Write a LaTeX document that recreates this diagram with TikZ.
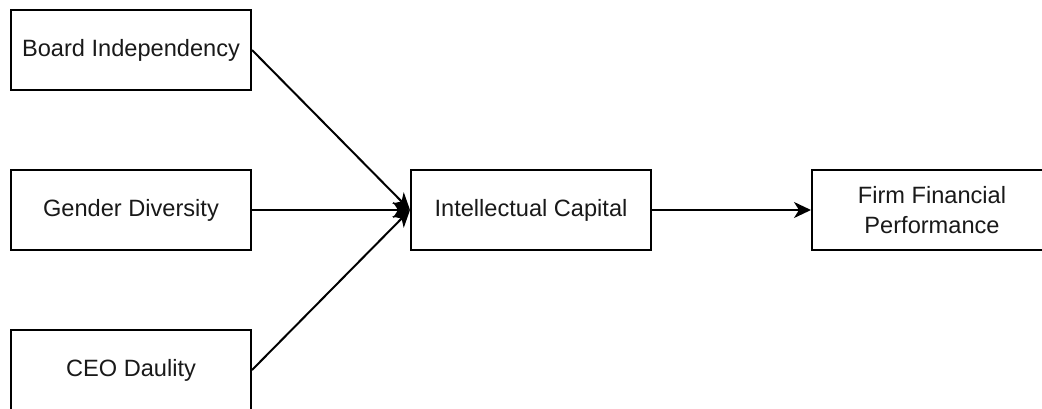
\documentclass[tikz,border=0pt]{standalone}
\usepackage{fontspec}
\setmainfont{Liberation Sans}
\usetikzlibrary{arrows.meta}
\begin{document}
\begin{tikzpicture}[x=0.5pt,y=-0.5pt,
  box/.style={draw=black, line width=1pt, minimum width=120pt, minimum height=40pt,
    inner sep=0pt, align=center, font=\fontsize{11.8}{14.6}\selectfont, text=black!90},
  conn/.style={draw=black, line width=1pt, -{Stealth[length=8.5pt,width=8pt,inset=2.5pt]}}]
\useasboundingbox (0,0) rectangle (1042,408);
\fill[white] (0,0) rectangle (1042,408);
\node[box] (bi) at (131,50) {Board Independency};
\node[box] (gd) at (131,210) {Gender Diversity};
\node[box] (ceo) at (131,370) {CEO Daulity};
\node[box] (ic) at (531,210) {Intellectual Capital};
\node[box] (ffp) at (932,210) {Firm Financial\\Performance};
\draw[conn] (bi.east) -- (ic.west);
\draw[conn] (gd.east) -- (ic.west);
\draw[conn] (ceo.east) -- (ic.west);
\draw[conn] (ic.east) -- (ffp.west);
\end{tikzpicture}
\end{document}
